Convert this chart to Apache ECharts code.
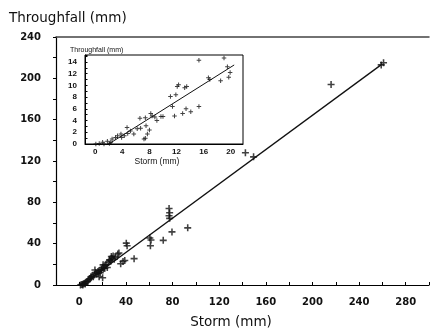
<!DOCTYPE html>
<html><head><meta charset="utf-8">
<script src="https://cdn.jsdelivr.net/npm/echarts@6/dist/echarts.min.js"></script>
<style>html,body{margin:0;padding:0;background:#fff}#c{width:432px;height:333px}</style>
</head><body><div id="c"></div>
<script>
// Main chart: storm (mm) vs throughfall (mm)
const mainStorm = [1,2,3,3,4,5,5,6,7,8,9,10,10,11,12,13,13.4,14,15,16,16.2,17,17,18,19,19,20,20,20.4,21,21.9,22,23,24,25,26,26.1,27,27.5,28,29,30,31,33,34,35.5,37.5,39,40.3,41,47,60.5,61.5,61,72,77,77.5,77,77.5,79.5,93,142.5,149.5,216,259,261];
const mainThrough = [0,0.5,0.8,0,1.5,2,1,3,3.5,5,6,7,8,9,8,10,14.6,12,11,13,11.4,14,8,12,15,14.6,17,7,19.5,16,16.3,19,20,17,22,24,24.4,23,27.6,26,28,25,27,30,30.9,20.5,22.7,23.7,40.5,38,25.5,45.5,43.5,38,43.2,74,70,67,64.5,51.4,55.3,128,124,194,213,215];
const mainFit = [[2,0],[260,214]];
// Inset: small storms
const insetStorm = [0.1,0.6,1.1,1.3,1.8,2.1,2.3,2.5,3.0,3.3,3.8,3.9,4.3,4.7,4.8,5.2,5.7,6.2,6.6,6.7,7.2,7.4,7.4,7.5,7.7,8.0,8.2,8.4,8.8,9.1,9.7,10.0,11.1,11.4,11.7,11.9,12.1,12.3,12.9,13.2,13.4,13.5,14.1,15.3,15.3,16.7,16.9,18.5,19.0,19.5,19.7,19.9];
const insetThrough = [0,0.1,0.3,0,0.45,0.1,0.3,0.85,1.1,1.4,1.7,1.1,1.4,2.8,1.8,2.2,1.7,2.6,4.4,2.7,0.85,1.0,4.5,3.1,1.7,2.4,5.2,4.8,4.6,4.0,4.7,4.7,8.1,6.4,4.8,8.4,9.8,10.1,5.2,9.6,6.0,9.8,5.5,14.3,6.4,11.3,11.0,10.8,14.7,13.2,11.4,12.2];
const insetFit = [[2,0],[20.5,13.5]];
const mainXTicks = [0,40,80,120,160,200,240,280];
const mainYTicks = [0,40,80,120,160,200,240];
const insetXTicks = [0,4,8,12,16,20];
const insetYTicks = [0,2,4,6,8,10,12,14];

const zip = (a,b) => a.map((v,i)=>[v,b[i]]);
const plus = 'path://M3.5,0H5.5V3.5H9V5.5H5.5V9H3.5V5.5H0V3.5H3.5Z';
const F = 'DejaVu Sans';
const chart = echarts.init(document.getElementById('c'), null, {renderer:'canvas'});
chart.setOption({
  animation:false,
  backgroundColor:'#fff',
  grid:[
    {left:56, top:37, right:0, bottom:48},
    {left:85, top:55, width:158, height:89, show:true, backgroundColor:'#fff', borderColor:'#000', borderWidth:1, z:5}
  ],
  xAxis:[
    {type:'value', gridIndex:0, min:-20, max:300, interval:20,
     axisLine:{show:true, onZero:false, lineStyle:{color:'#000', width:1.2}},
     axisTick:{show:true, inside:true, length:3, lineStyle:{color:'#000'}},
     axisLabel:{margin:12, fontFamily:F, fontWeight:'bold', fontSize:10, color:'#111',
       formatter:v => mainXTicks.includes(v) ? String(v) : ''},
     splitLine:{show:false}},
    {type:'value', gridIndex:1, min:-1.5, max:21.8, interval:0.5,
     axisLine:{show:true, onZero:false, lineStyle:{color:'#000', width:1}},
     axisTick:{show:false},
     axisLabel:{margin:4, fontFamily:'Liberation Sans', fontWeight:'bold', fontSize:8, color:'#111',
       formatter:v => insetXTicks.includes(v) ? String(v) : ''},
     splitLine:{show:false}, z:6},
    {type:'value', gridIndex:0, position:'top', min:-20, max:300,
     axisLine:{show:true, onZero:false, lineStyle:{color:'#444', width:1.5}},
     axisTick:{show:false}, axisLabel:{show:false}, splitLine:{show:false}}
  ],
  yAxis:[
    {type:'value', gridIndex:0, min:0, max:240, interval:20,
     axisLine:{show:true, onZero:false, lineStyle:{color:'#000', width:1.2}},
     axisTick:{show:true, inside:false, length:3, lineStyle:{color:'#000'}},
     axisLabel:{margin:15, fontFamily:F, fontWeight:'bold', fontSize:10, color:'#111',
       formatter:v => mainYTicks.includes(v) ? String(v) : ''},
     splitLine:{show:false}},
    {type:'value', gridIndex:1, min:0, max:15.2, interval:1,
     axisLine:{show:true, onZero:false, lineStyle:{color:'#000', width:1}},
     axisTick:{show:true, inside:true, length:2.5, lineStyle:{color:'#000'}},
     axisLabel:{margin:8, fontFamily:'Liberation Sans', fontWeight:'bold', fontSize:8, color:'#111',
       formatter:v => insetYTicks.includes(v) ? String(v) : ''},
     splitLine:{show:false}, z:6}
  ],
  graphic:[
    {type:'text', left:9, top:11, style:{text:'Throughfall (mm)', font:'13.5px "DejaVu Sans"', fill:'#111'}},
    {type:'text', x:231, y:322, style:{text:'Storm (mm)', font:'13.5px "DejaVu Sans"', fill:'#111', textAlign:'center', textVerticalAlign:'middle'}},
    {type:'text', x:70, y:50, z:10, style:{text:'Throughfall (mm)', font:'7px "Liberation Sans"', fill:'#111', textVerticalAlign:'middle'}},
    {type:'text', x:157, y:162, z:10, style:{text:'Storm (mm)', font:'8.5px "Liberation Sans"', fill:'#111', textAlign:'center', textVerticalAlign:'middle'}}
  ],
  series:[
    {type:'scatter', xAxisIndex:0, yAxisIndex:0, data:zip(mainStorm, mainThrough), symbol:plus, symbolSize:7, itemStyle:{color:'#111'}},
    {type:'line', xAxisIndex:0, yAxisIndex:0, data:mainFit, symbol:'none', lineStyle:{color:'#111', width:1.3}},
    {type:'scatter', xAxisIndex:1, yAxisIndex:1, data:zip(insetStorm, insetThrough), symbol:plus, symbolSize:4.5, itemStyle:{color:'#111'}, z:8},
    {type:'line', xAxisIndex:1, yAxisIndex:1, data:insetFit, symbol:'none', lineStyle:{color:'#111', width:1}, z:8}
  ]
});
</script></body></html>
